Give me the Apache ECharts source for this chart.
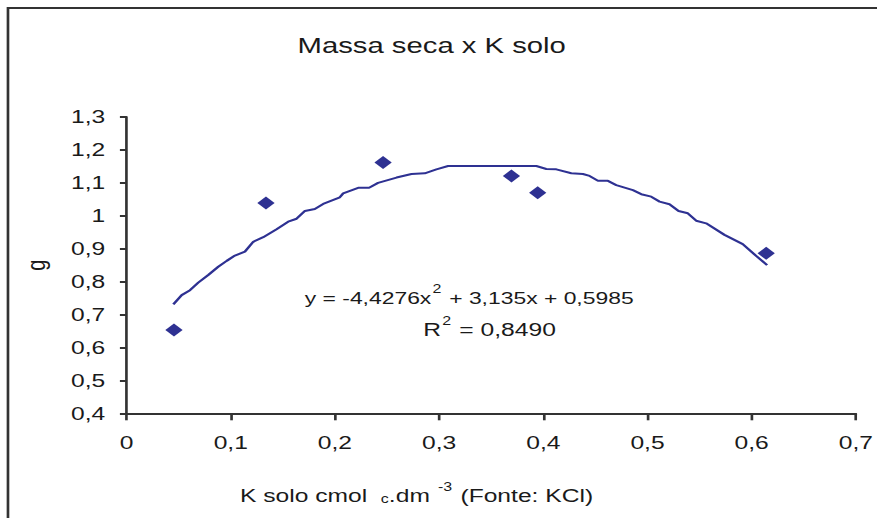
<!DOCTYPE html>
<html>
<head>
<meta charset="utf-8">
<script src="https://cdn.jsdelivr.net/npm/echarts@6/dist/echarts.min.js"></script>
<style>
html,body{margin:0;padding:0;background:#fff;overflow:hidden;}
#wrap{width:877px;height:518px;overflow:hidden;position:relative;}
#chart{width:659px;height:518px;transform:scaleX(1.3308);transform-origin:0 0;}
</style>
</head>
<body>
<div id="wrap"><div id="chart"></div></div>
<script>
// Observed points: K solo (x) vs massa seca (g)
const kSolo = [0.0455, 0.1338, 0.2462, 0.3694, 0.3946, 0.6139];
const massaSeca = [0.653, 1.039, 1.162, 1.121, 1.070, 0.886];

// Trendline (x, y)
const trendX = [0.0449,0.0529,0.0609,0.0688,0.0784,0.0880,0.0961,0.1040,0.1136,0.1216,0.1312,0.1440,0.1551,0.1632,0.1712,0.1807,0.1887,0.2047,0.2079,0.2223,0.2328,0.2414,0.2591,0.2735,0.2862,0.2974,0.3086,0.3933,0.4029,0.4125,0.4269,0.4380,0.4444,0.4524,0.4620,0.4700,0.4860,0.4940,0.5036,0.5116,0.5211,0.5298,0.5387,0.5467,0.5563,0.5739,0.5914,0.6043,0.6148];
const trendY = [0.731,0.759,0.774,0.797,0.820,0.845,0.863,0.879,0.891,0.921,0.935,0.959,0.982,0.991,1.0145,1.0205,1.036,1.056,1.068,1.085,1.085,1.100,1.116,1.127,1.129,1.141,1.151,1.151,1.142,1.141,1.129,1.127,1.121,1.1065,1.106,1.093,1.078,1.0655,1.058,1.043,1.035,1.0145,1.0075,0.985,0.977,0.942,0.914,0.878,0.850];

const xTicks = [0, 0.7, 0.1];
const yTicks = [0.4, 1.3, 0.1];

const titleText = 'Massa seca x K solo';
const yName = 'g';
const eqText = '{e|y = -4,4276x}{s|2}{e| + 3,135x + 0,5985}';
const r2Text = '{n|R}{s|2}{n| = 0,8490}';
const xNameText = '{n|K solo cmol  }{b|c}{n|.dm }{s|-3}{n| (Fonte: KCl)}';

const navy = '#2E3192';
const ink = '#1a1a1a';
const FF = '"Liberation Sans", Arial, sans-serif';

const fmt = v => {
  const r = Math.round(v * 10) / 10;
  return String(r).replace('.', ',');
};

const chart = echarts.init(document.getElementById('chart'), null, {renderer: 'svg'});
const richStyles = {
  n: {fontSize: 18.5, fontFamily: FF, color: ink, lineHeight: 24, verticalAlign: 'bottom'},
  e: {fontSize: 17.2, fontFamily: FF, color: ink, lineHeight: 24, verticalAlign: 'bottom'},
  s: {fontSize: 12, fontFamily: FF, color: ink, lineHeight: 24, verticalAlign: 'top', padding: [0, 1, 0, 1]},
  b: {fontSize: 12, fontFamily: FF, color: ink, lineHeight: 20, verticalAlign: 'bottom'}
};
chart.setOption({
  animation: false,
  backgroundColor: '#fff',
  grid: {left: 95.1, right: 15.4, top: 117, bottom: 104.7, containLabel: false},
  xAxis: {
    type: 'value', min: xTicks[0], max: xTicks[1], interval: xTicks[2],
    axisLine: {show: true, onZero: false, lineStyle: {color: '#333', width: 2}},
    axisTick: {show: true, length: 7, lineStyle: {color: '#333', width: 2}},
    axisLabel: {fontSize: 18.5, fontFamily: FF, color: ink, margin: 20, formatter: fmt},
    splitLine: {show: false}
  },
  yAxis: {
    type: 'value', min: yTicks[0], max: yTicks[1], interval: yTicks[2],
    name: yName, nameLocation: 'middle', nameRotate: 90, nameGap: 58,
    nameTextStyle: {fontSize: 20, fontFamily: FF, color: ink},
    axisLine: {show: true, onZero: false, lineStyle: {color: '#333', width: 2}},
    axisTick: {show: true, length: 5, lineStyle: {color: '#333', width: 2}},
    axisLabel: {fontSize: 18.5, fontFamily: FF, color: ink, margin: 16, formatter: fmt},
    splitLine: {show: false}
  },
  series: [
    {
      type: 'line',
      data: trendX.map((x, i) => [x, trendY[i]]),
      showSymbol: false, symbol: 'none',
      lineStyle: {color: navy, width: 2},
      z: 2
    },
    {
      type: 'scatter',
      data: kSolo.map((x, i) => [x, massaSeca[i]]),
      symbol: 'diamond', symbolSize: 13,
      itemStyle: {color: navy, opacity: 1},
      z: 3
    }
  ],
  graphic: [
    {type: 'rect', shape: {x: 6, y: 8, width: 2000, height: 2000},
     style: {fill: 'none', stroke: '#333', lineWidth: 2}, silent: true, z: 0},
    {type: 'text', x: 324.4, y: 45,
     style: {text: titleText, fontSize: 22, fontFamily: FF, fill: ink, align: 'center', verticalAlign: 'middle'}},
    {type: 'text', x: 229, y: 295,
     style: {text: eqText, rich: richStyles, align: 'left', verticalAlign: 'middle', fontSize: 18, fontFamily: FF, fill: ink}},
    {type: 'text', x: 318, y: 327,
     style: {text: r2Text, rich: richStyles, align: 'left', verticalAlign: 'middle', fontSize: 18, fontFamily: FF, fill: ink}},
    {type: 'text', x: 313, y: 493,
     style: {text: xNameText, rich: richStyles, align: 'center', verticalAlign: 'middle', fontSize: 18, fontFamily: FF, fill: ink}}
  ]
});
</script>
</body>
</html>
